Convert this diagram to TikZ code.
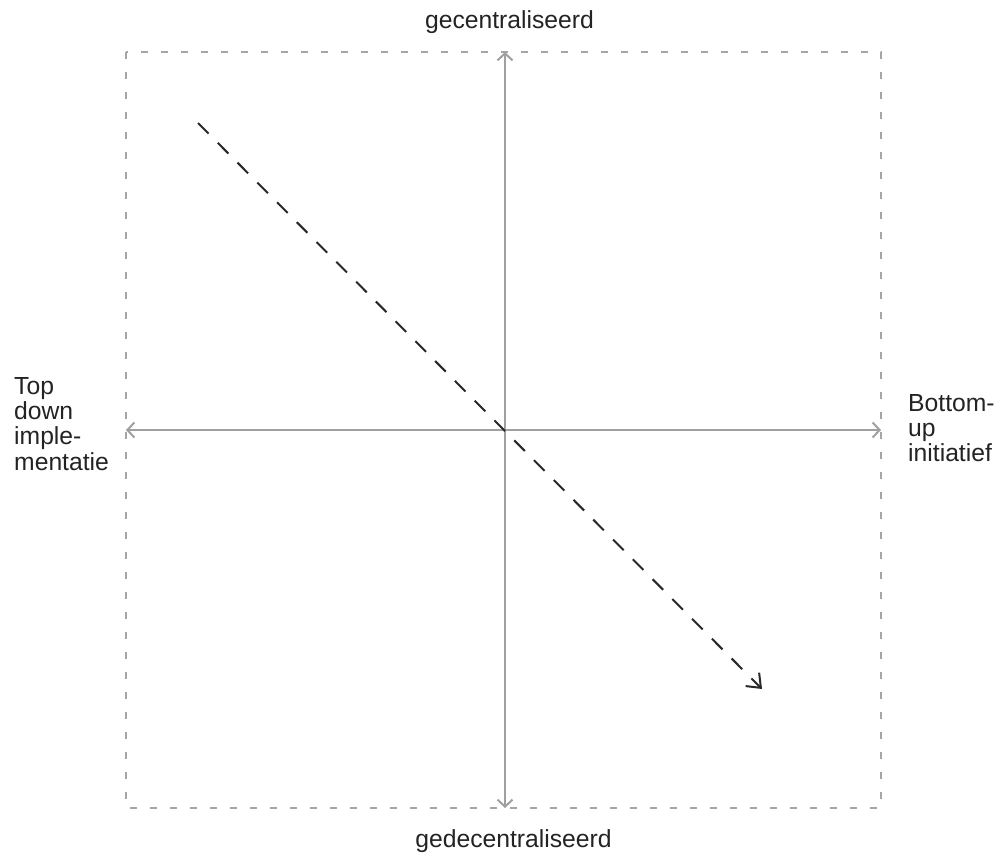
\documentclass[tikz,border=0pt]{standalone}
\usepackage{fontspec}
\setmainfont{Liberation Sans}
\usetikzlibrary{arrows.meta}
\definecolor{boxgray}{RGB}{165,165,165}
\definecolor{axisgray}{RGB}{160,160,160}
\definecolor{txt}{RGB}{35,35,35}
\definecolor{diag}{RGB}{40,40,40}
\tikzset{
  frame/.style={draw=boxgray, line width=2pt, dash pattern=on 7pt off 13pt},
  axis/.style={draw=axisgray, line width=2pt, {Straight Barb[length=7pt,width=15pt]}-{Straight Barb[length=7pt,width=15pt]}},
  trend/.style={draw=diag, line width=2pt, dash pattern=on 15pt off 13pt, -{Straight Barb[length=12pt,width=19pt]}},
  lbl/.style={inner sep=0pt, text=txt, font=\fontsize{24.7}{25}\selectfont},
}
\begin{document}
\begin{tikzpicture}[x=1pt,y=-1pt]
\useasboundingbox (0,0) rectangle (995,854);
\coordinate (NW) at (126,52);
\coordinate (SE) at (881,808);
\coordinate (T) at (505,52);
\coordinate (B) at (505,808);
\coordinate (L) at (126,430);
\coordinate (R) at (881,430);
\coordinate (S) at (198,123);
\coordinate (E) at (762,689);
\draw[frame] (NW) rectangle (SE);
\draw[axis] (B) -- (T);
\draw[axis] (L) -- (R);
\draw[trend] (S) -- (E);
\node[lbl, anchor=base] (top) at (509.5,28) {gecentraliseerd};
\node[lbl, anchor=base] (bottom) at (513.5,847.5) {gedecentraliseerd};
\node[lbl, anchor=base west] (left) at (14,394) {\begin{tabular}[t]{@{}l@{}}Top\\down\\imple-\\mentatie\end{tabular}};
\node[lbl, anchor=base west] (right) at (908,411) {\begin{tabular}[t]{@{}l@{}}Bottom-\\up\\initiatief\end{tabular}};
\end{tikzpicture}
\end{document}
